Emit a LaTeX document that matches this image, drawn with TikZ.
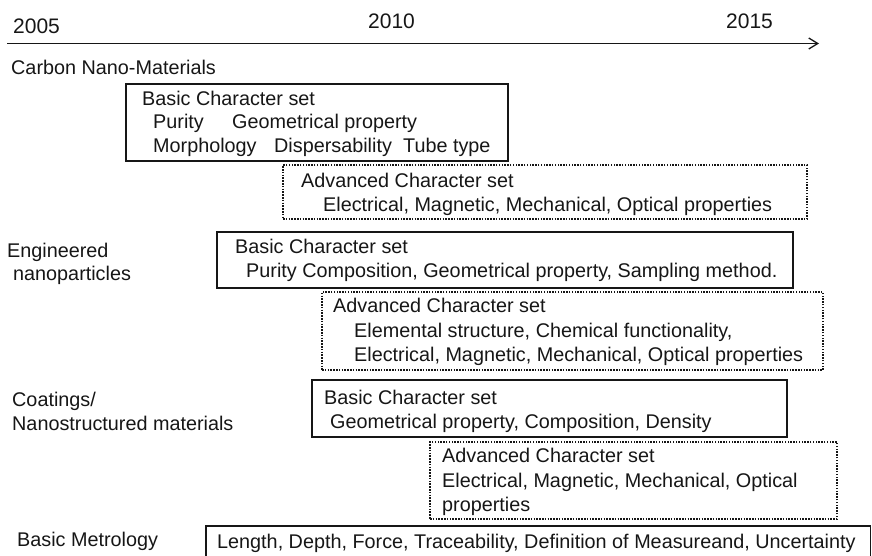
\documentclass[tikz,border=0pt]{standalone}
\usepackage{fontspec}
\setmainfont{Liberation Sans}
\usetikzlibrary{arrows.meta}
\definecolor{ink}{HTML}{161616}
\begin{document}
\begin{tikzpicture}[x=1pt,y=-1pt,
  txt/.style={anchor=base west,inner sep=0pt,text=ink,font=\fontsize{19.8}{24}\selectfont},
  yeartxt/.style={txt,font=\fontsize{21}{25}\selectfont},
  panel/.style={anchor=north west,inner sep=0pt,outer sep=0pt,rectangle},
  solidbox/.style={panel,draw=ink,line width=1.7pt},
  dotbox/.style={panel,draw=ink,line width=1.4pt,dash pattern=on 1.5pt off 1.3pt}]
\useasboundingbox (0,0) rectangle (872,555);
\clip (0,0) rectangle (872,555);

% time axis
\node[yeartxt] (y2005) at (13,33) {2005};
\node[yeartxt] (y2010) at (368,28) {2010};
\node[yeartxt] (y2015) at (726,28) {2015};
\coordinate (axisstart) at (7,43.5);
\coordinate (axisend) at (819,43.5);
\draw[ink,line width=1.4pt,-{Straight Barb[length=9pt,width=11pt,line width=1.3pt]}] (axisstart) -- (axisend);

% Carbon nano-materials
\node[txt] (cnm) at (11,74) {Carbon Nano-Materials};
\node[solidbox,minimum width=382pt,minimum height=77pt] (cnmbasic) at (126,84) {};
\node[txt] (cnmb1) at (142,105) {Basic Character set};
\node[txt] (cnmb2) at (153,128) {Purity};
\node[txt] (cnmb3) at (232,128) {Geometrical property};
\node[txt] (cnmb4) at (153,152) {Morphology};
\node[txt] (cnmb5) at (274,152) {Dispersability};
\node[txt] (cnmb6) at (403,152) {Tube type};
\node[dotbox,minimum width=524pt,minimum height=54pt] (cnmadv) at (283,165) {};
\node[txt] (cnma1) at (301,187) {Advanced Character set};
\node[txt] (cnma2) at (323,211) {Electrical, Magnetic, Mechanical, Optical properties};

% Engineered nanoparticles
\node[txt] (enp1) at (7,257) {Engineered};
\node[txt] (enp2) at (13,280) {nanoparticles};
\node[solidbox,minimum width=576pt,minimum height=56pt] (enpbasic) at (217,232) {};
\node[txt] (enpb1) at (235,253) {Basic Character set};
\node[txt] (enpb2) at (246,277) {Purity Composition, Geometrical property, Sampling method.};
\node[dotbox,minimum width=501pt,minimum height=78pt] (enpadv) at (322,292) {};
\node[txt] (enpa1) at (333,312) {Advanced Character set};
\node[txt] (enpa2) at (354,337) {Elemental structure, Chemical functionality,};
\node[txt] (enpa3) at (354,361) {Electrical, Magnetic, Mechanical, Optical properties};

% Coatings / nanostructured materials
\node[txt] (cns1) at (12,406) {Coatings/};
\node[txt] (cns2) at (12,430) {Nanostructured materials};
\node[solidbox,minimum width=475pt,minimum height=57pt] (cnsbasic) at (312,380) {};
\node[txt] (cnsb1) at (324,404) {Basic Character set};
\node[txt] (cnsb2) at (330,428) {Geometrical property, Composition, Density};
\node[dotbox,minimum width=407pt,minimum height=77pt] (cnsadv) at (430,442) {};
\node[txt] (cnsa1) at (442,462) {Advanced Character set};
\node[txt] (cnsa2) at (442,487) {Electrical, Magnetic, Mechanical, Optical};
\node[txt] (cnsa3) at (442,511) {properties};

% Basic metrology
\node[txt] (bm) at (17,546) {Basic Metrology};
\node[solidbox,minimum width=664.5pt,minimum height=50pt] (bmbasic) at (206,526) {};
\node[txt] (bmb) at (217,548) {Length, Depth, Force, Traceability, Definition of Measureand, Uncertainty};
\end{tikzpicture}
\end{document}
